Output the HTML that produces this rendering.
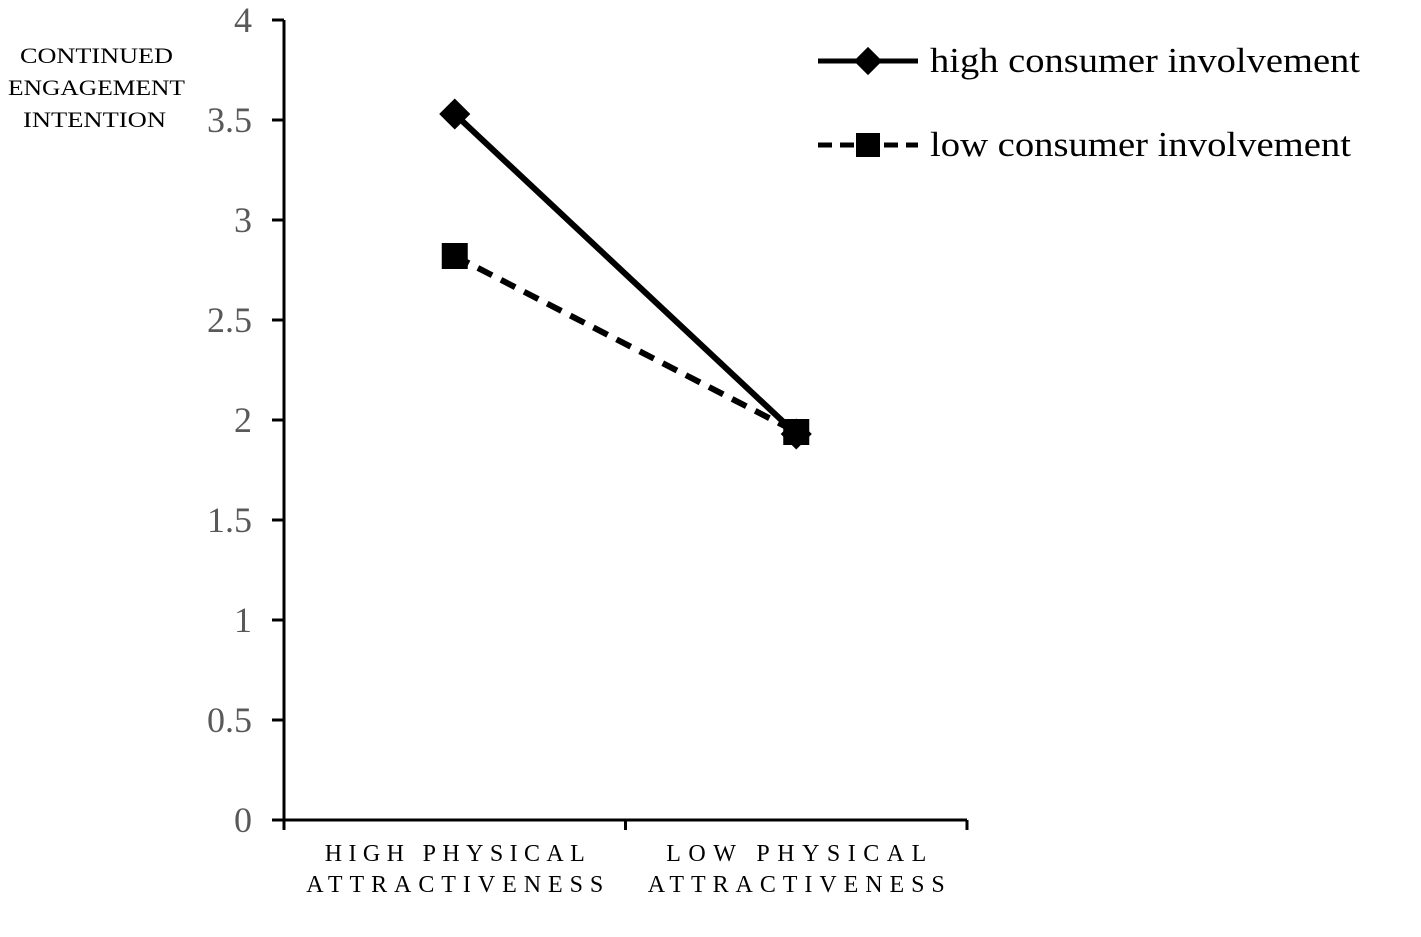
<!DOCTYPE html>
<html><head><meta charset="utf-8"><style>
html,body{margin:0;padding:0;background:#fff;}
svg{display:block;font-family:"Liberation Serif",serif;}
</style></head><body>
<svg id="chart" width="1421" height="937" viewBox="0 0 1421 937">
<g font-size="22" fill="#000">
<text x="20" y="63" textLength="153" lengthAdjust="spacingAndGlyphs">CONTINUED</text>
<text x="8" y="95" textLength="177" lengthAdjust="spacingAndGlyphs">ENGAGEMENT</text>
<text x="23" y="127" textLength="143" lengthAdjust="spacingAndGlyphs">INTENTION</text>
</g>
<g id="axes"></g>
<g id="series"></g>
<g>
<g>
<line x1="818" y1="61" x2="918" y2="61" stroke="#000" stroke-width="5"/>
<rect x="858" y="51" width="20" height="20" transform="rotate(45 868 61)" fill="#000"/>
<text x="930" y="72" font-size="35" textLength="430" lengthAdjust="spacingAndGlyphs">high consumer involvement</text>
</g>
<g>
<line x1="818" y1="145" x2="918" y2="145" stroke="#000" stroke-width="5" stroke-dasharray="14,8"/>
<rect x="856" y="133" width="24" height="24" fill="#000"/>
<text x="930" y="156" font-size="35" textLength="421" lengthAdjust="spacingAndGlyphs">low consumer involvement</text>
</g>
</g>
</svg>
<script>
const categories = ["HIGH PHYSICAL|ATTRACTIVENESS", "LOW PHYSICAL|ATTRACTIVENESS"];
const highInvolvement = [3.53, 1.93];
const lowInvolvement = [2.82, 1.94];
const yTicks = [0, 0.5, 1, 1.5, 2, 2.5, 3, 3.5, 4];
const yTickLabels = ["0", "0.5", "1", "1.5", "2", "2.5", "3", "3.5", "4"];

const NS = "http://www.w3.org/2000/svg";
const plotLeft = 284, plotRight = 967, plotTop = 20, plotBottom = 820;
const yScale = v => plotBottom - (v - 0) / (4 - 0) * (plotBottom - plotTop);
const band = (plotRight - plotLeft) / categories.length;
const xScale = i => plotLeft + band * (i + 0.5);
function mk(tag, attrs, parent) {
  const e = document.createElementNS(NS, tag);
  for (const k in attrs) e.setAttribute(k, attrs[k]);
  parent.appendChild(e); return e;
}
const axes = document.getElementById('axes');
const yAxis = mk('line', {x1: plotLeft, y1: plotTop, x2: plotLeft, y2: plotBottom, stroke: '#000', 'stroke-width': 3}, axes);


const xAxis = mk('line', {x1: plotLeft - 12, y1: plotBottom, x2: plotRight, y2: plotBottom, stroke: '#000', 'stroke-width': 3}, axes);


yTicks.forEach((t, i) => {
  const tk = mk('line', {x1: plotLeft - 12, y1: yScale(t), x2: plotLeft, y2: yScale(t), stroke: '#000', 'stroke-width': 3}, axes);
  
  
  const lb = mk('text', {x: plotLeft - 32, y: yScale(t) + 12, 'font-size': 36, 'text-anchor': 'end', fill: '#595959'}, axes);
  lb.textContent = yTickLabels[i];
  
  
});
for (let i = 0; i <= categories.length; i++) {
  const tk = mk('line', {x1: plotLeft + band * i, y1: plotBottom, x2: plotLeft + band * i, y2: plotBottom + 10, stroke: '#000', 'stroke-width': 3}, axes);
  
  
}
categories.forEach((c, i) => {
  c.split('|').forEach((ln, j) => {
    const w = j === 0 ? 260 : 297;
    const t = mk('text', {x: xScale(i) - w / 2, y: 861 + j * 31, 'font-size': 24, textLength: w, lengthAdjust: 'spacing', fill: '#000'}, axes);
    t.textContent = ln;
    
    
  });
});
const series = document.getElementById('series');
function drawLine(vals, dash, name) {
  const pts = vals.map((v, i) => xScale(i) + ',' + yScale(v)).join(' ');
  const pl = mk('polyline', {points: pts, fill: 'none', stroke: '#000', 'stroke-width': 6, 'stroke-dasharray': dash}, series);
  
  
}
drawLine(highInvolvement, 'none', 'high-involvement');
drawLine(lowInvolvement, '16,10', 'low-involvement');
highInvolvement.forEach((v, i) => {
  const m = mk('rect', {x: xScale(i) - 11, y: yScale(v) - 11, width: 22, height: 22, fill: '#000', transform: 'rotate(45 ' + xScale(i) + ' ' + yScale(v) + ')'}, series);
  
  
});
lowInvolvement.forEach((v, i) => {
  const m = mk('rect', {x: xScale(i) - 13, y: yScale(v) - 13, width: 26, height: 26, fill: '#000'}, series);
  
  
});
</script>
</body></html>
